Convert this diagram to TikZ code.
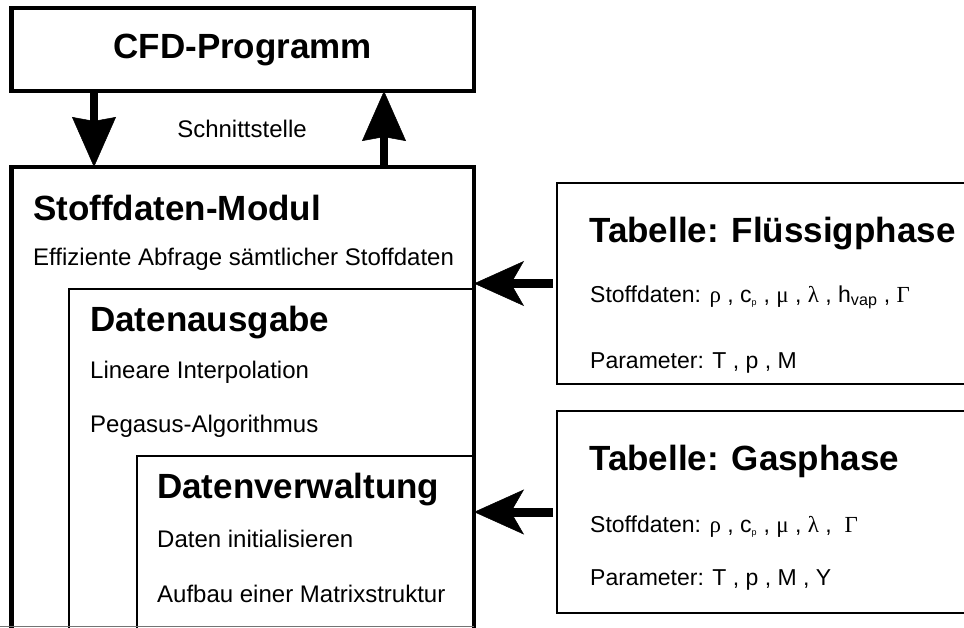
\documentclass[tikz,border=0pt]{standalone}
\usepackage{fontspec}
\setmainfont{Liberation Sans}
\newfontfamily\grk{Liberation Serif}
\usetikzlibrary{arrows.meta,positioning}

\begin{document}
\begin{tikzpicture}[x=1pt, y=-1pt,
  box/.style = {draw, rectangle, outer sep=0pt, inner sep=0pt, anchor=north west},
  dickbox/.style = {box, line width=4.5pt},
  duennbox/.style = {box, line width=1.2pt},
  tabbox/.style = {box, line width=1.5pt},
  titel/.style = {anchor=base west, inner sep=0pt, font=\fontsize{35}{40}\selectfont\bfseries},
  eintrag/.style = {anchor=base west, inner sep=0pt, font=\fontsize{24}{28}\selectfont},
  daten/.style = {anchor=base west, inner sep=0pt, font=\fontsize{23}{26}\selectfont},
  pfeil/.style = {line width=8pt, -{Stealth[length=50pt, width=44pt, inset=4pt, line width=0.5pt]}},
  seitenpfeil/.style = {line width=9pt, shorten <=4pt,
    -{Stealth[length=50pt, width=45pt, inset=13pt, line width=0.5pt]}}]

  \useasboundingbox (0,0) rectangle (964,627);

  % CFD-Programm
  \node[dickbox, minimum width=462.5pt, minimum height=83pt,
    font=\fontsize{35}{40}\selectfont\bfseries] (cfd) at (11.5,8) {CFD-Programm};
  \node[eintrag, anchor=base] (schnitt) at (242,137) {Schnittstelle};

  % Stoffdaten-Modul mit verschachtelten Bereichen
  \node[duennbox, minimum width=405pt, minimum height=360pt] (ausgabe) at (69,289) {};
  \node[duennbox, minimum width=337pt, minimum height=200pt] (verwaltung) at (137,456) {};
  \node[dickbox, minimum width=462.5pt, minimum height=470pt] (modul) at (11.5,167) {};
  \draw[line width=1pt, black!55] (0,626) -- (474,626);

  \node[titel] (modultitel) at (33,220) {Stoffdaten-Modul};
  \node[eintrag] (abfrage) at (33,265) {Effiziente Abfrage sämtlicher Stoffdaten};
  \node[titel] (ausgabetitel) at (90,331) {Datenausgabe};
  \node[eintrag] (interpolation) at (90,378) {Lineare Interpolation};
  \node[eintrag] (pegasus) at (90,432) {Pegasus-Algorithmus};
  \node[titel] (verwaltungtitel) at (157,498) {Datenverwaltung};
  \node[eintrag] (initial) at (157,547) {Daten initialisieren};
  \node[eintrag] (matrix) at (157,602) {Aufbau einer Matrixstruktur};

  % Tabellen
  \node[tabbox, minimum width=440pt, minimum height=201pt] (fluessig) at (557,183) {};
  \node[tabbox, minimum width=440pt, minimum height=202pt] (gas) at (557,411) {};

  \node[titel] (fluessigtitel) at (589,242) {Tabelle: Flüssigphase};
  \node[daten] (fluessigdaten) at (590,302) {Stoffdaten: {\grk ρ} , c\textsubscript{\fontsize{9}{9}\selectfont p} , {\grk μ} , {\grk λ} , h\textsubscript{vap} , {\grk Γ}};
  \node[daten] (fluessigparam) at (590,368) {Parameter: T , p , M};

  \node[titel] (gastitel) at (589,470) {Tabelle: Gasphase};
  \node[daten] (gasdaten) at (590,532) {Stoffdaten: {\grk ρ} , c\textsubscript{\fontsize{9}{9}\selectfont p} , {\grk μ} , {\grk λ} , \ {\grk Γ}};
  \node[daten] (gasparam) at (590,585) {Parameter: T , p , M , Y};

  % Pfeile
  \draw[pfeil] ([xshift=82.5pt]cfd.south west) -- ([xshift=82.5pt]modul.north west);
  \draw[pfeil] ([xshift=372.5pt]modul.north west) -- ([xshift=372.5pt]cfd.south west);
  \draw[seitenpfeil] (fluessig.west) -- (fluessig.west -| modul.east);
  \draw[seitenpfeil] (gas.west) -- (gas.west -| modul.east);
\end{tikzpicture}
\end{document}
